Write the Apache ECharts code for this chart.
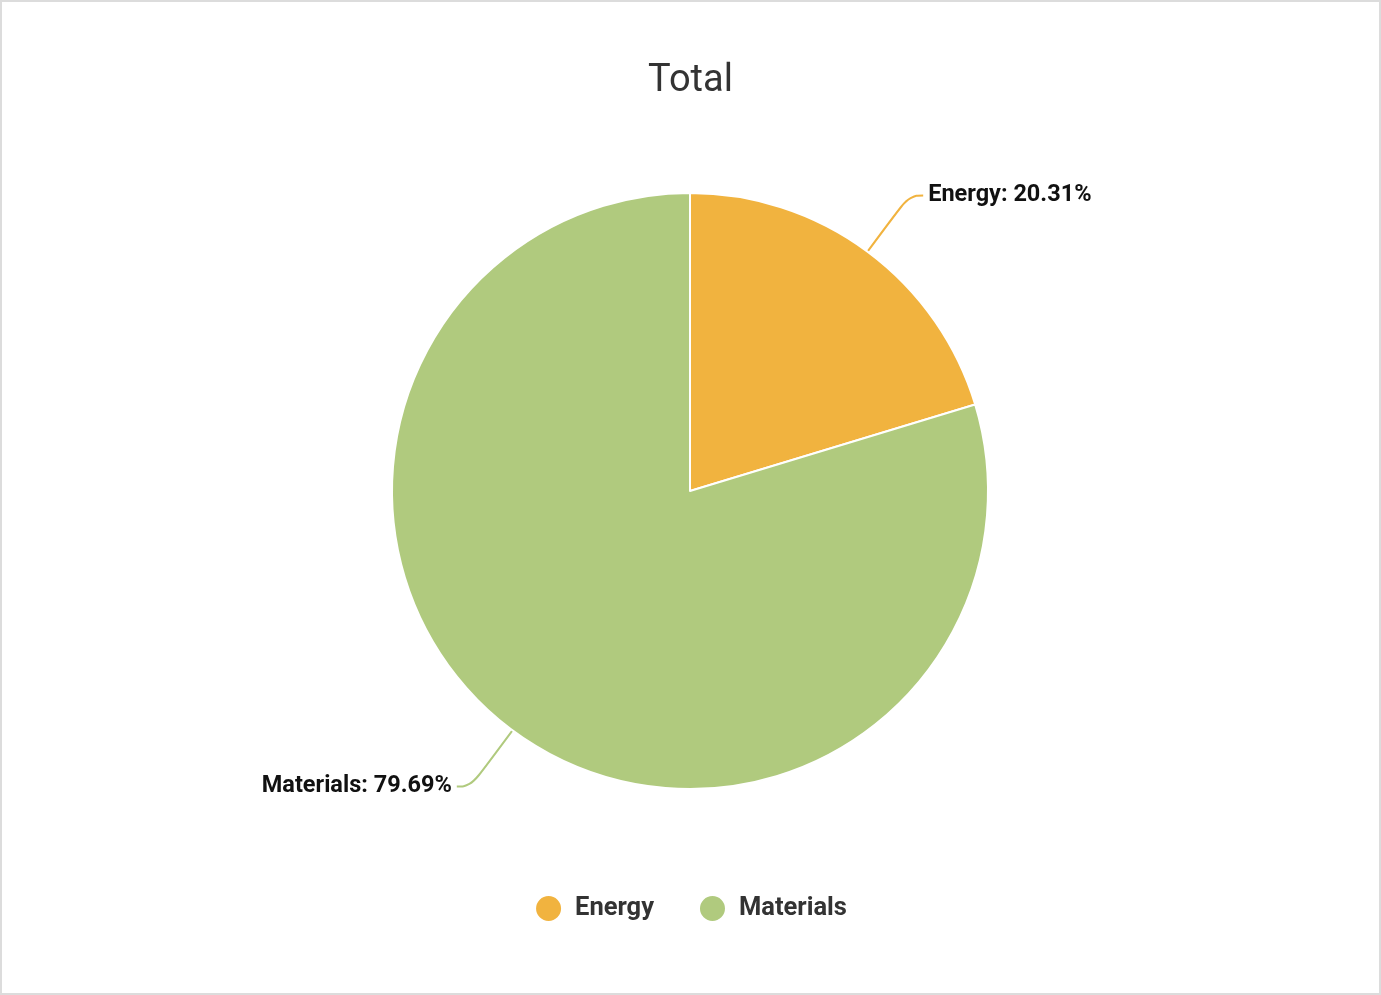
<!DOCTYPE html>
<html>
<head>
<meta charset="utf-8">
<title>Total</title>
<script src="https://cdn.jsdelivr.net/npm/echarts@6/dist/echarts.min.js"></script>
<style>
  html, body { margin: 0; padding: 0; background: #fff; }
  #chart {
    width: 1381px;
    height: 995px;
    box-sizing: border-box;
    border: 2px solid #dcdcdc;
  }
</style>
</head>
<body>
<div id="chart"></div>
<script>
  // data
  var categories = ["Energy", "Materials"];
  var values = [20.31, 79.69];
  var colors = ["#f1b33f", "#b0ca7e"];

  var pieData = [];
  for (var i = 0; i < categories.length; i++) {
    pieData.push({ name: categories[i], value: values[i] });
  }

  var myChart = echarts.init(document.getElementById("chart"));

  var option = {
    color: colors,
    textStyle: { fontFamily: "Roboto" },
    title: {
      text: "Total",
      left: "center",
      top: 55,
      textStyle: {
        fontFamily: "Roboto",
        fontSize: 38,
        fontWeight: "normal",
        color: "#333"
      }
    },
    legend: {
      data: categories,
      bottom: 65,
      left: "center",
      icon: "circle",
      itemWidth: 27,
      itemHeight: 27,
      itemGap: 44,
      textStyle: {
        fontFamily: "Roboto",
        fontSize: 25.5,
        fontWeight: "bold",
        color: "#333",
        padding: [0, 0, 0, 8]
      }
    },
    series: [
      {
        type: "pie",
        center: [688, 489],
        radius: 298,
        startAngle: 90,
        clockwise: true,
        data: pieData,
        itemStyle: {
          borderColor: "#fff",
          borderWidth: 2
        },
        label: {
          show: true,
          formatter: "{b}: {d}%",
          fontFamily: "Roboto",
          fontSize: 23.5,
          fontWeight: "bold",
          color: "#111"
        },
        labelLine: {
          show: true,
          smooth: 0.5,
          length: 70,
          length2: 14,
          lineStyle: { width: 2 }
        },
        emphasis: { scale: false }
      }
    ]
  };

  myChart.setOption(option);
</script>
</body>
</html>
